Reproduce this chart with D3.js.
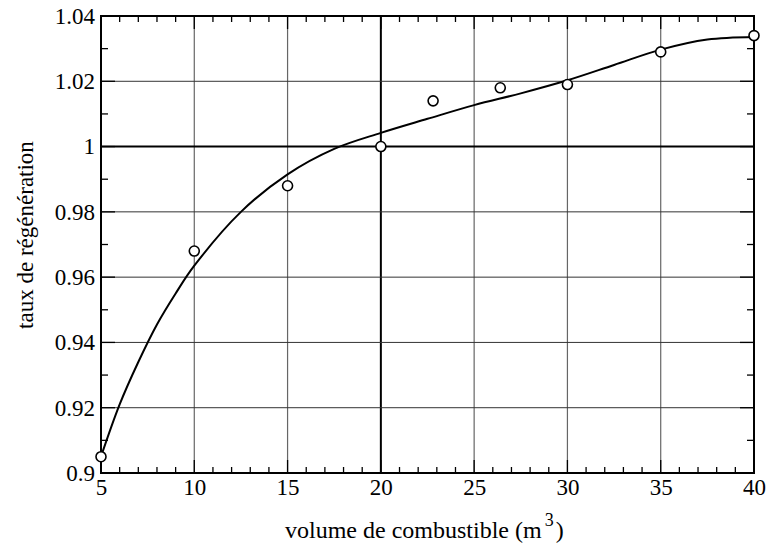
<!DOCTYPE html>
<html>
<head>
<meta charset="utf-8">
<script src="https://cdn.jsdelivr.net/npm/d3@7"></script>
<style>
  html, body { margin: 0; padding: 0; background: #fff; }
  svg { display: block; }
</style>
</head>
<body>
<svg id="chart" width="770" height="547"></svg>
<script>
// Measured points: fuel volume (m³) vs regeneration rate
const volumes = [5, 10, 15, 20, 22.8, 26.4, 30, 35, 40];
const rates   = [0.905, 0.968, 0.988, 1.000, 1.014, 1.018, 1.019, 1.029, 1.034];

// Fitted trend curve
const fitVolumes = [5, 6, 7, 8, 9, 10, 12.5, 15, 17.5, 20, 22.5, 25, 27.5, 30, 32.5, 35, 37.5, 40];
const fitRates   = [0.905, 0.921, 0.934, 0.9455, 0.955, 0.9635, 0.980, 0.9915, 0.9993, 1.0042,
                    1.0085, 1.0127, 1.0163, 1.0203, 1.0250, 1.0297, 1.0328, 1.0336];

// Axis ticks
const xTickValues = [5, 10, 15, 20, 25, 30, 35, 40];
const xTickLabels = ["5", "10", "15", "20", "25", "30", "35", "40"];
const yTickValues = [0.90, 0.92, 0.94, 0.96, 0.98, 1.00, 1.02, 1.04];
const yTickLabels = ["0.9", "0.92", "0.94", "0.96", "0.98", "1", "1.02", "1.04"];

const FONT = "Liberation Serif";
const svg = d3.select("#chart");
const plotL = 101, plotR = 754, plotT = 16, plotB = 473;

const x = d3.scaleLinear().domain([5, 40]).range([plotL, plotR]);
const y = d3.scaleLinear().domain([0.9, 1.04]).range([plotB, plotT]);

// Grid lines
const grid = svg.append("g");
grid.selectAll("line.v").data(xTickValues.slice(1, -1)).join("line")
  .attr("x1", d => x(d)).attr("x2", d => x(d))
  .attr("y1", plotT).attr("y2", plotB)
  .attr("stroke", d => d === 20 ? "#000" : "#666")
  .attr("stroke-width", d => d === 20 ? 2 : 1.2);
grid.selectAll("line.h").data(yTickValues.slice(1, -1)).join("line")
  .attr("x1", plotL).attr("x2", plotR)
  .attr("y1", d => y(d)).attr("y2", d => y(d))
  .attr("stroke", d => d === 1 ? "#000" : "#333")
  .attr("stroke-width", d => d === 1 ? 2 : 1);

// Ticks, pointing inward on all four sides
const xMinor = d3.range(6, 40, 1).filter(v => v % 5 !== 0);
const yMinor = [0.91, 0.93, 0.95, 0.97, 0.99, 1.01, 1.03];
const ticks = svg.append("g").attr("stroke", "#000").attr("stroke-width", 1.3);
ticks.selectAll("line.xb").data(xMinor).join("line")
  .attr("x1", d => x(d)).attr("x2", d => x(d)).attr("y1", plotB).attr("y2", plotB - 6);
ticks.selectAll("line.xt").data(xMinor).join("line")
  .attr("x1", d => x(d)).attr("x2", d => x(d)).attr("y1", plotT).attr("y2", plotT + 6);
ticks.selectAll("line.yl").data(yMinor).join("line")
  .attr("x1", plotL).attr("x2", plotL + 7).attr("y1", d => y(d)).attr("y2", d => y(d));
ticks.selectAll("line.yr").data(yMinor).join("line")
  .attr("x1", plotR).attr("x2", plotR - 7).attr("y1", d => y(d)).attr("y2", d => y(d));
ticks.selectAll("line.xbm").data(xTickValues).join("line")
  .attr("x1", d => x(d)).attr("x2", d => x(d)).attr("y1", plotB).attr("y2", plotB - 13);
ticks.selectAll("line.xtm").data(xTickValues).join("line")
  .attr("x1", d => x(d)).attr("x2", d => x(d)).attr("y1", plotT).attr("y2", plotT + 13);
ticks.selectAll("line.ylm").data(yTickValues).join("line")
  .attr("x1", plotL).attr("x2", plotL + 14).attr("y1", d => y(d)).attr("y2", d => y(d));
ticks.selectAll("line.yrm").data(yTickValues).join("line")
  .attr("x1", plotR).attr("x2", plotR - 14).attr("y1", d => y(d)).attr("y2", d => y(d));

// Frame
svg.append("rect")
  .attr("x", plotL).attr("y", plotT)
  .attr("width", plotR - plotL).attr("height", plotB - plotT)
  .attr("fill", "none").attr("stroke", "#000").attr("stroke-width", 2);

// Tick labels
const xAxis = svg.append("g")
  .attr("transform", `translate(0,${plotB})`)
  .call(d3.axisBottom(x).tickValues(xTickValues)
        .tickFormat((d, i) => xTickLabels[i]).tickSize(0).tickPadding(6));
xAxis.attr("font-family", FONT);
xAxis.select(".domain").remove();
xAxis.selectAll("text").attr("font-size", 23).attr("font-family", FONT).attr("fill", "#000");

const yAxis = svg.append("g")
  .attr("transform", `translate(${plotL},0)`)
  .call(d3.axisLeft(y).tickValues(yTickValues)
        .tickFormat((d, i) => yTickLabels[i]).tickSize(0).tickPadding(6));
yAxis.attr("font-family", FONT);
yAxis.select(".domain").remove();
yAxis.selectAll("text").attr("font-size", 23).attr("font-family", FONT).attr("fill", "#000");

// Trend curve
const line = d3.line()
  .x((d, i) => x(fitVolumes[i]))
  .y((d, i) => y(fitRates[i]))
  .curve(d3.curveCatmullRom.alpha(0.5));
svg.append("path")
  .attr("d", line(fitVolumes))
  .attr("fill", "none").attr("stroke", "#000").attr("stroke-width", 2);

// Measured points
svg.append("g").selectAll("circle").data(volumes).join("circle")
  .attr("cx", d => x(d))
  .attr("cy", (d, i) => y(rates[i]))
  .attr("r", 5)
  .attr("fill", "#fff").attr("stroke", "#000").attr("stroke-width", 1.6);

// Axis titles
const xt = svg.append("text")
  .attr("x", 285).attr("y", 538)
  .attr("text-anchor", "start").attr("font-size", 24).attr("font-family", FONT).attr("fill", "#000");
xt.append("tspan").text("volume de combustible (m");
xt.append("tspan").attr("dx", 3).attr("dy", -12).attr("font-size", 18).text("3");
xt.append("tspan").attr("dx", 2).attr("dy", 12).text(")");

svg.append("text")
  .attr("transform", "translate(33,235) rotate(-90)")
  .attr("text-anchor", "middle").attr("font-size", 23).attr("font-family", FONT).attr("fill", "#000")
  .text("taux de régénération");
</script>
</body>
</html>
